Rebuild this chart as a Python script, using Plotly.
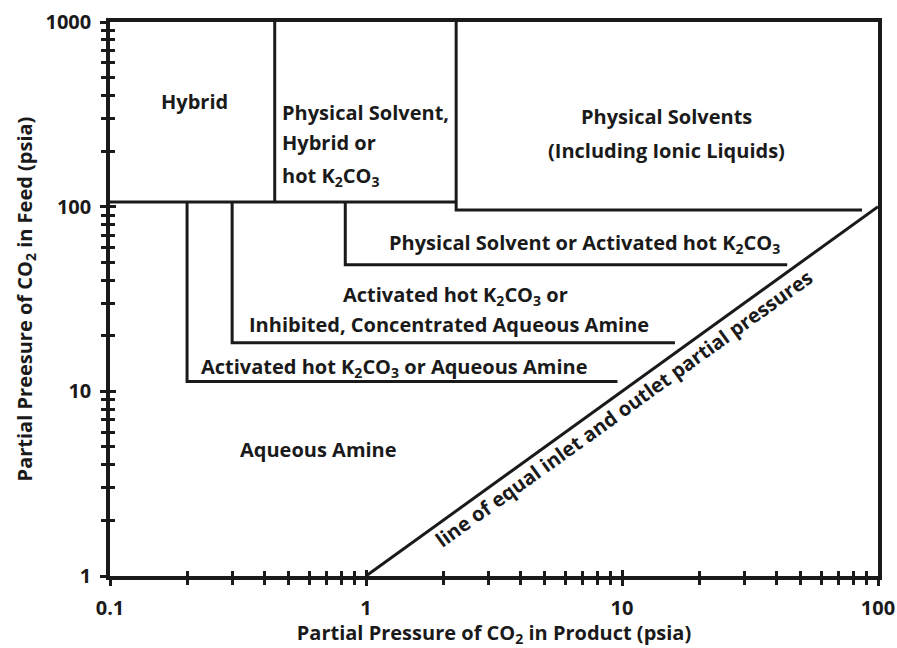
import plotly.graph_objects as go

# Region boundaries on the CO2 partial-pressure map (psia)
product_edges = [0.1, 0.2, 0.3, 0.44, 0.83, 2.25]      # vertical boundaries (product side)
feed_levels = [106, 96, 48.5, 18.3, 11.3]               # horizontal boundary levels (feed side)
shelf_ends = [86.6, 44.2, 16.1, 9.6]                     # right ends of the stepped shelves
equal_line_x = [1, 100]
equal_line_y = [1, 100]

x_ticks = [0.1, 1, 10, 100]
x_labels = ["0.1", "1", "10", "100"]
y_ticks = [1, 10, 100, 1000]
y_labels = ["1", "10", "100", "1000"]

INK = "#1a1a1a"
FONT = "Open Sans"

x0, x_aq, x_inh, x_hyb, x_psa, x_phys = product_edges
y_top, y_phys, y_psa, y_inh, y_aq = feed_levels
e_phys, e_psa, e_inh, e_aq = shelf_ends

segments = [
    ([x0, x_phys], [y_top, y_top]),
    ([x_hyb, x_hyb], [y_top, 1000]),
    ([x_phys, x_phys, e_phys], [1000, y_phys, y_phys]),
    ([x_psa, x_psa, e_psa], [y_top, y_psa, y_psa]),
    ([x_inh, x_inh, e_inh], [y_top, y_inh, y_inh]),
    ([x_aq, x_aq, e_aq], [y_top, y_aq, y_aq]),
    (equal_line_x, equal_line_y),
]

fig = go.Figure()
for xs, ys in segments:
    fig.add_trace(go.Scatter(x=xs, y=ys, mode="lines",
                             line=dict(color=INK, width=3),
                             hoverinfo="skip", showlegend=False))

# invisible anchors so the overlay axes (inward tick halves) get drawn
fig.add_trace(go.Scatter(x=[1], y=[1], xaxis="x2", yaxis="y", mode="markers",
                         marker=dict(opacity=0), hoverinfo="skip", showlegend=False))
fig.add_trace(go.Scatter(x=[1], y=[1], xaxis="x", yaxis="y2", mode="markers",
                         marker=dict(opacity=0), hoverinfo="skip", showlegend=False))

x_minor = [d * 10 ** e for e in (-1, 0, 1) for d in range(2, 10)]
y_minor = [d * 10 ** e for e in (0, 1, 2) for d in range(2, 10)]

tick_font = dict(family=FONT, size=20, color=INK, weight="bold")
title_font = dict(family=FONT, size=20, color=INK, weight="bold")

def axis(tickvals, rng, minor_vals, side_ticks, ticktext=None, line=True):
    ax = dict(
        type="log", range=rng, tickvals=tickvals,
        showticklabels=ticktext is not None, ticks=side_ticks, ticklen=6, tickwidth=3,
        tickcolor=INK,
        minor=dict(tickvals=minor_vals, ticks=side_ticks, ticklen=5, tickwidth=3,
                   tickcolor=INK, showgrid=False),
        showline=line, linecolor=INK, linewidth=3.5, mirror=line,
        showgrid=False, zeroline=False, tickfont=tick_font, automargin=False,
    )
    if ticktext is not None:
        ax["ticktext"] = ticktext
        ax["ticklabelstandoff"] = 5
    return ax

xa = axis(x_ticks, [-1, 2], x_minor, "outside", x_labels)
xa["title"] = dict(text="Partial Pressure of CO<sub>2</sub> in Product (psia)",
                   font=title_font, standoff=9)
ya = axis(y_ticks, [0, 3], y_minor, "outside", y_labels)
ya["title"] = dict(text="Partial Preesure of CO<sub>2</sub> in Feed (psia)",
                   font=title_font, standoff=9)

xa2 = axis(x_ticks, [-1, 2], x_minor, "inside", line=False)
xa2.update(overlaying="x", anchor="y", side="bottom")
ya2 = axis(y_ticks, [0, 3], y_minor, "inside", line=False)
ya2.update(overlaying="y", anchor="x", side="left")

fig.update_layout(
    width=897, height=648,
    margin=dict(l=110, r=19, t=22, b=72),
    paper_bgcolor="white", plot_bgcolor="white",
    xaxis=xa, yaxis=ya, xaxis2=xa2, yaxis2=ya2,
    font=dict(family=FONT, color=INK),
)

label_font = dict(family=FONT, size=20, color=INK, weight="bold")

# region labels: (text, log10 x, log10 y, xanchor)
labels = [
    ("Hybrid", -0.668, 2.569, "center"),
    ("Physical Solvent,", -0.336, 2.509, "left"),
    ("Hybrid or", -0.336, 2.347, "left"),
    ("hot K<sub>2</sub>CO<sub>3</sub>", -0.336, 2.163, "left"),
    ("Physical Solvents", 1.172, 2.488, "center"),
    ("(Including Ionic Liquids)", 1.172, 2.304, "center"),
    ("Physical Solvent or Activated hot K<sub>2</sub>CO<sub>3</sub>", 0.852, 1.800, "center"),
    ("Activated hot K<sub>2</sub>CO<sub>3</sub> or", 0.350, 1.520, "center"),
    ("Inhibited, Concentrated Aqueous Amine", 0.324, 1.362, "center"),
    ("Activated hot K<sub>2</sub>CO<sub>3</sub> or Aqueous Amine", 0.113, 1.130, "center"),
    ("Aqueous Amine", -0.1875, 0.683, "center"),
]
for text, lx, ly, anchor in labels:
    fig.add_annotation(x=lx, y=ly, xref="x", yref="y", text=text,
                       showarrow=False, xanchor=anchor, yanchor="middle", font=label_font)

fig.add_annotation(x=1.008, y=0.905, xref="x", yref="y",
                   text="line of equal inlet and outlet partial pressures",
                   showarrow=False, textangle=-35.7, font=label_font)

fig.write_html("out.html")
